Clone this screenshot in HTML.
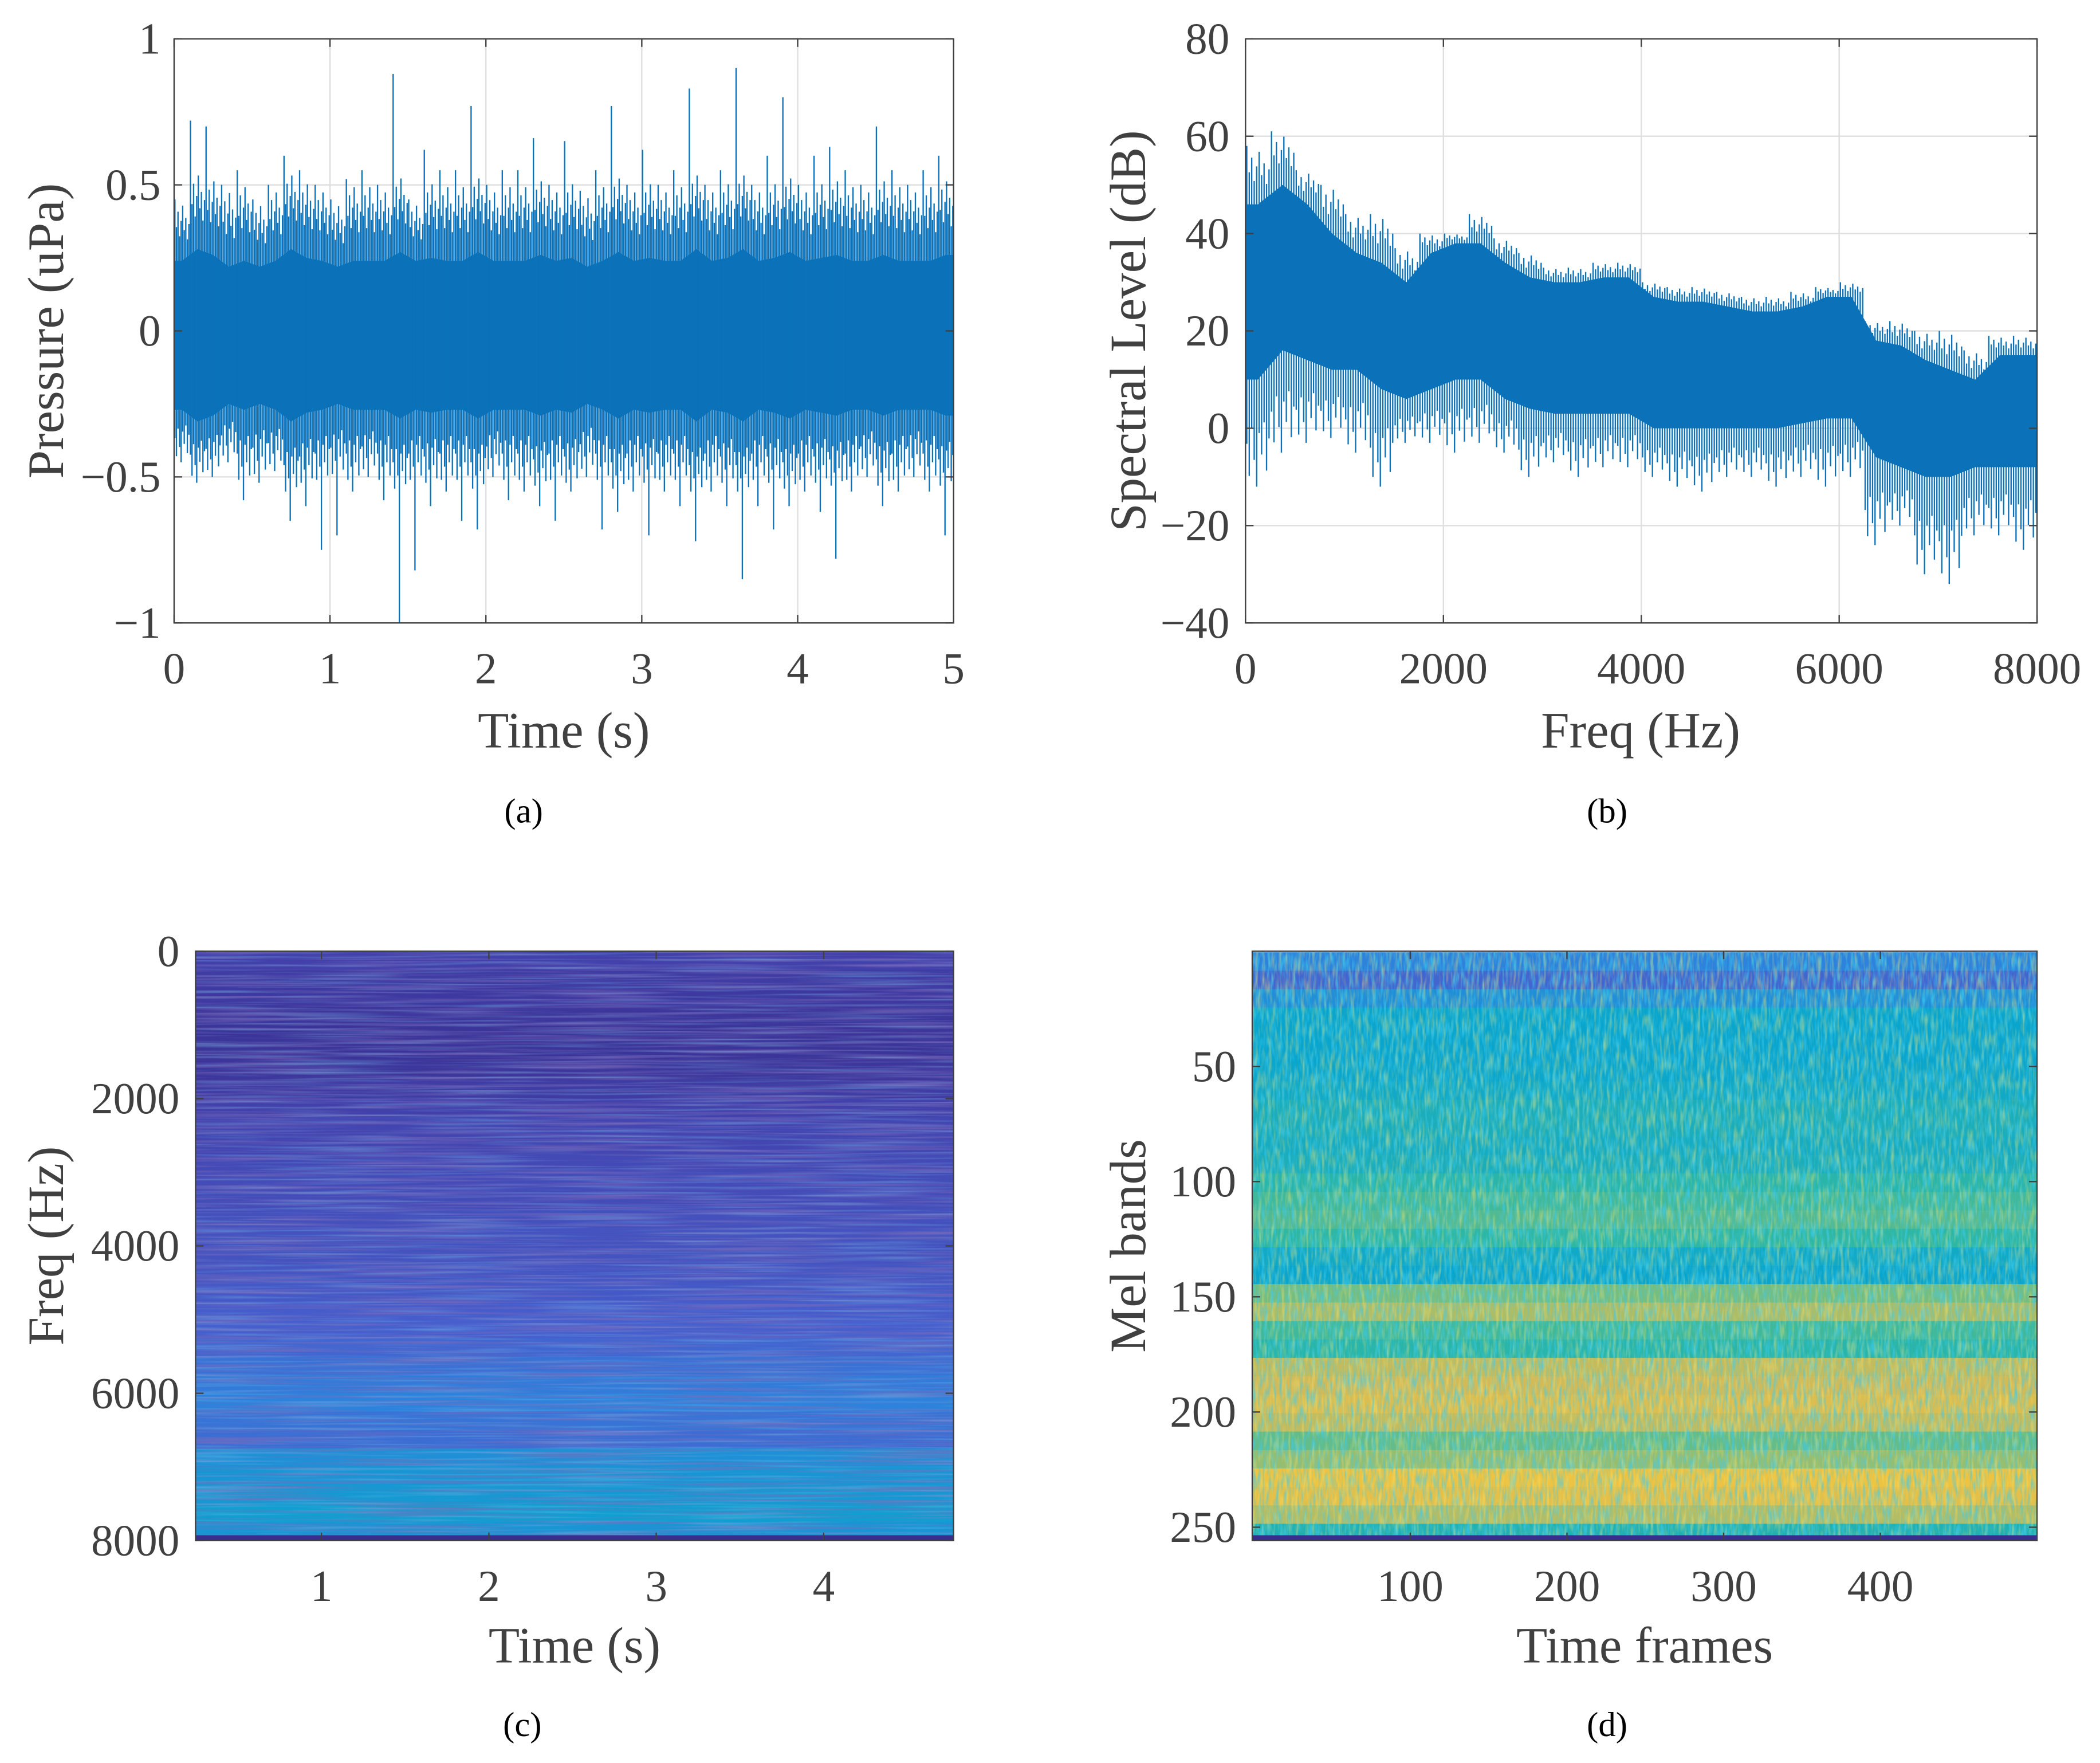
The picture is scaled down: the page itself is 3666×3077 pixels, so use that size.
<!DOCTYPE html>
<html><head><meta charset="utf-8"><style>
html,body{margin:0;padding:0;background:#fff;}
svg{display:block;}
text{font-family:"Liberation Serif","Times New Roman",serif;fill:#404040;}
</style></head><body>
<svg id="fig" xmlns="http://www.w3.org/2000/svg" width="3666" height="3077" viewBox="0 0 1568 1316" preserveAspectRatio="none">
<defs>
<filter id="streakH" x="0" y="0" width="1" height="1" filterUnits="objectBoundingBox">
<feTurbulence type="fractalNoise" baseFrequency="0.008 0.5" numOctaves="2" seed="3" result="n"/>
<feColorMatrix in="n" type="matrix" values="0 0 0 0 0.2  0 0 0 0 0.15  0 0 0 0 0.5  2.2 0 0 0 -0.95"/>
</filter>
<filter id="streakH2" x="0" y="0" width="1" height="1" filterUnits="objectBoundingBox">
<feTurbulence type="fractalNoise" baseFrequency="0.01 0.5" numOctaves="2" seed="11" result="n"/>
<feColorMatrix in="n" type="matrix" values="0 0 0 0 0.2  0 0 0 0 0.55  0 0 0 0 0.85  2.2 0 0 0 -1.05"/>
</filter>
<filter id="streakV" x="0" y="0" width="1" height="1" filterUnits="objectBoundingBox">
<feTurbulence type="fractalNoise" baseFrequency="0.45 0.08" numOctaves="2" seed="5" result="n"/>
<feColorMatrix in="n" type="matrix" values="0 0 0 0 0.05  0 0 0 0 0.6  0 0 0 0 0.85  2.4 0 0 0 -1.0"/>
</filter>
<filter id="streakV2" x="0" y="0" width="1" height="1" filterUnits="objectBoundingBox">
<feTurbulence type="fractalNoise" baseFrequency="0.4 0.07" numOctaves="2" seed="9" result="n"/>
<feColorMatrix in="n" type="matrix" values="0 0 0 0 1  0 0 0 0 0.8  0 0 0 0 0.15  2.4 0 0 0 -1.1"/>
</filter>
<clipPath id="clipC"><rect x="146" y="710" width="566" height="440"/></clipPath>
<clipPath id="clipD"><rect x="935" y="710" width="586" height="440"/></clipPath>
<clipPath id="clipA"><rect x="130" y="29" width="582" height="436"/></clipPath>
<clipPath id="clipB"><rect x="930" y="29" width="591" height="436"/></clipPath>
</defs>
</svg>
<script>
// ---------- data ----------
const waveTicksX = [0,1,2,3,4,5];
const waveTicksY = [1,0.5,0,-0.5,-1];
const waveTickLabelsY = ["1","0.5","0","\u22120.5","\u22121"];
const waveMax = [0.45,0.72,0.7,0.5,0.55,0.45,0.5,0.6,0.55,0.5,0.45,0.52,0.55,0.5,0.88,0.45,0.62,0.55,0.55,0.77,0.5,0.55,0.55,0.66,0.5,0.65,0.48,0.55,0.77,0.5,0.62,0.5,0.55,0.83,0.5,0.55,0.9,0.5,0.6,0.8,0.5,0.6,0.63,0.55,0.5,0.7,0.55,0.5,0.55,0.6];
const waveMin = [-0.45,-0.52,-0.5,-0.45,-0.58,-0.52,-0.48,-0.65,-0.6,-0.75,-0.7,-0.55,-0.5,-0.58,-1.0,-0.82,-0.6,-0.55,-0.65,-0.68,-0.5,-0.58,-0.55,-0.6,-0.65,-0.55,-0.5,-0.68,-0.62,-0.55,-0.7,-0.55,-0.6,-0.72,-0.55,-0.6,-0.85,-0.6,-0.68,-0.6,-0.55,-0.62,-0.78,-0.55,-0.5,-0.6,-0.55,-0.5,-0.55,-0.7];
const waveCore = [0.24,0.28,0.26,0.22,0.24,0.22,0.24,0.28,0.25,0.24,0.22,0.24,0.24,0.24,0.27,0.24,0.25,0.24,0.24,0.27,0.24,0.24,0.24,0.26,0.24,0.25,0.22,0.24,0.27,0.24,0.25,0.24,0.24,0.28,0.24,0.25,0.28,0.24,0.25,0.27,0.24,0.25,0.26,0.24,0.24,0.26,0.24,0.24,0.24,0.26];

const specTicksX = [0,2000,4000,6000,8000];
const specTicksY = [80,60,40,20,0,-20,-40];
const specTickLabelsY = ["80","60","40","20","0","\u221220","\u221240"];
const specHi = [58,61,53,50,44,44,37,40,40,44,39,36,33,33,34,34,30,29,29,28,27,27,28,29,30,22,22,20,20,16,19,19];
const specCoreHi = [46,50,46,40,36,34,30,36,38,38,34,31,30,30,31,31,27,26,26,25,24,24,25,27,27,18,17,14,12,10,15,15];
const specCoreLo = [10,16,14,12,12,8,6,8,10,10,6,4,3,3,3,3,0,0,0,0,0,0,1,2,2,-6,-8,-10,-10,-8,-8,-8];
const specLo = [-12,-5,-3,-2,-5,-12,-3,-3,-5,-3,-5,-10,-7,-10,-8,-8,-10,-12,-13,-10,-10,-12,-10,-12,-10,-24,-20,-30,-32,-22,-22,-25];

const stftTicksX = [1,2,3,4];
const stftTicksY = [0,2000,4000,6000,8000];
const stftRows = [0.1,0.08,0.07,0.06,0.05,0.05,0.06,0.08,0.1,0.12,0.12,0.13,0.14,0.14,0.15,0.16,0.16,0.17,0.18,0.19,0.2,0.22,0.25,0.28,0.3,0.26,0.24,0.36,0.38,0.4,0.42,0.38];

const melTicksX = [100,200,300,400];
const melTicksY = [50,100,150,200,250];
const melRows = [0.3,0.22,0.35,0.45,0.45,0.45,0.46,0.48,0.52,0.52,0.5,0.52,0.58,0.62,0.64,0.6,0.48,0.45,0.68,0.75,0.62,0.58,0.78,0.8,0.82,0.78,0.66,0.72,0.86,0.84,0.76,0.55];

// ---------- helpers ----------
const NS="http://www.w3.org/2000/svg";
const svg=document.getElementById('fig');
function mk(tag,attrs,parent){const e=document.createElementNS(NS,tag);for(const k in attrs)e.setAttribute(k,attrs[k]);(parent||svg).appendChild(e);return e;}
function txt(s,x,y,size,anchor,parent,extra){const t=mk('text',Object.assign({x:x,y:y,'font-size':size,'text-anchor':anchor||'middle'},extra||{}),parent);t.textContent=s;return t;}
function lin(d0,d1,r0,r1){return v=>r0+(v-d0)*(r1-r0)/(d1-d0);}
const parulaStops=[[0,[53,42,135]],[0.1,[66,64,170]],[0.2,[70,95,205]],[0.3,[45,130,220]],[0.45,[10,165,205]],[0.6,[46,183,164]],[0.7,[135,191,119]],[0.8,[209,187,89]],[0.9,[254,200,50]],[1,[249,251,14]]];
function parula(v){v=Math.max(0,Math.min(1,v));for(let i=1;i<parulaStops.length;i++){const a=parulaStops[i-1],b=parulaStops[i];if(v<=b[0]){const t=(v-a[0])/(b[0]-a[0]);const c=a[1].map((x,j)=>Math.round(x+(b[1][j]-x)*t));return 'rgb('+c.join(',')+')';}}return 'rgb(249,251,14)';}
const BLUE='#0b72b9';
const spikeUp=[1,0.55,0.8,0.4,0.65,0.9,0.5,0.7,0.35,0.6];
const spikeDn=[0.6,0.9,0.45,0.75,1,0.5,0.7,0.4,0.85,0.55];
function frame(g,x0,y0,x1,y1){const r=mk('rect',{x:x0,y:y0,width:x1-x0,height:y1-y0,fill:'none',stroke:'#404040','stroke-width':1},g);}
const TF=33, LF=38, CF=26;

// ---------- panel a ----------
(function(){
const g=mk('g',{});
const X0=130,X1=712,Y0=29,Y1=465;const sx=lin(0,5,X0,X1),sy=lin(-1,1,Y1,Y0);
waveTicksY.forEach(v=>{mk('line',{x1:X0,x2:X1,y1:sy(v),y2:sy(v),stroke:'#dedede','stroke-width':1},g);});
waveTicksX.forEach(v=>{mk('line',{x1:sx(v),x2:sx(v),y1:Y0,y2:Y1,stroke:'#dedede','stroke-width':1},g);});
const n=waveMax.length,bw=5/n;
const s=mk('g',{'clip-path':'url(#clipA)'},g);
let top=[],bot=[];
waveCore.forEach((c,i)=>{top.push(sx((i+0.5)*bw)+','+sy(c));bot.unshift(sx((i+0.5)*bw)+','+sy(-c-0.03));});
top.unshift(sx(0)+','+sy(waveCore[0]));top.push(sx(5)+','+sy(waveCore[n-1]));
bot.unshift(sx(5)+','+sy(-waveCore[n-1]-0.03));bot.push(sx(0)+','+sy(-waveCore[0]-0.03));
mk('polygon',{points:top.concat(bot).join(' '),fill:BLUE},s);
waveMax.forEach((m,i)=>{const c=waveCore[i];
 for(let k=0;k<10;k++){const xc=sx((i+0.05+k*0.1)*bw);
  const up=k===0?m:c+(Math.min(m,c+0.28)-c)*spikeUp[k];
  const dn=k===4?waveMin[i]:-c-(Math.min(-waveMin[i],c+0.3)-c)*spikeDn[k];
  mk('line',{x1:xc,x2:xc,y1:sy(up),y2:sy(dn),stroke:BLUE,'stroke-width':1},s);}
});
waveTicksX.forEach(v=>{mk('line',{x1:sx(v),x2:sx(v),y1:Y1,y2:Y1-6,stroke:'#404040'},g);mk('line',{x1:sx(v),x2:sx(v),y1:Y0,y2:Y0+6,stroke:'#404040'},g);txt(String(v),sx(v),Y1+45,TF,'middle',g);});
waveTicksY.forEach((v,i)=>{mk('line',{x1:X0,x2:X0+6,y1:sy(v),y2:sy(v),stroke:'#404040'},g);mk('line',{x1:X1,x2:X1-6,y1:sy(v),y2:sy(v),stroke:'#404040'},g);txt(waveTickLabelsY[i],X0-10,sy(v)+11,TF,'end',g);});
frame(g,X0,Y0,X1,Y1);
const xl=txt('Time (s)',421,558,LF,'middle',g);
const yl=txt('Pressure (uPa)',0,0,LF,'middle',g,{transform:'translate(47,247) rotate(-90)'});
const cap=txt('(a)',391,614,CF,'middle',g,{style:'fill:#000'});
})();

// ---------- panel b ----------
(function(){
const g=mk('g',{});
const X0=930,X1=1521,Y0=29,Y1=465;const sx=lin(0,8000,X0,X1),sy=lin(-40,80,Y1,Y0);
specTicksY.forEach(v=>{mk('line',{x1:X0,x2:X1,y1:sy(v),y2:sy(v),stroke:'#dedede'},g);});
specTicksX.forEach(v=>{mk('line',{x1:sx(v),x2:sx(v),y1:Y0,y2:Y1,stroke:'#dedede'},g);});
const s=mk('g',{'clip-path':'url(#clipB)'},g);
const n=specHi.length,bw=8000/n;
let top=[],bot=[];
specCoreHi.forEach((c,i)=>{top.push(sx((i+0.5)*bw)+','+sy(c));bot.unshift(sx((i+0.5)*bw)+','+sy(specCoreLo[i]));});
top.unshift(sx(0)+','+sy(specCoreHi[0]));top.push(sx(8000)+','+sy(specCoreHi[n-1]));
bot.unshift(sx(8000)+','+sy(specCoreLo[n-1]));bot.push(sx(0)+','+sy(specCoreLo[0]));
mk('polygon',{points:top.concat(bot).join(' '),fill:BLUE},s);
specHi.forEach((h,i)=>{
 for(let k=0;k<10;k++){const xc=sx((i+0.05+k*0.1)*bw);
  const up=specCoreHi[i]+(h-specCoreHi[i])*spikeUp[k];
  const dn=specCoreLo[i]+(specLo[i]-specCoreLo[i])*spikeDn[k];
  mk('line',{x1:xc,x2:xc,y1:sy(up),y2:sy(dn),stroke:BLUE,'stroke-width':1},s);}
});
specTicksX.forEach(v=>{mk('line',{x1:sx(v),x2:sx(v),y1:Y1,y2:Y1-6,stroke:'#404040'},g);mk('line',{x1:sx(v),x2:sx(v),y1:Y0,y2:Y0+6,stroke:'#404040'},g);txt(String(v),sx(v),Y1+45,TF,'middle',g);});
specTicksY.forEach((v,i)=>{mk('line',{x1:X0,x2:X0+6,y1:sy(v),y2:sy(v),stroke:'#404040'},g);mk('line',{x1:X1,x2:X1-6,y1:sy(v),y2:sy(v),stroke:'#404040'},g);txt(specTickLabelsY[i],X0-12,sy(v)+11,TF,'end',g);});
frame(g,X0,Y0,X1,Y1);
const xl=txt('Freq (Hz)',1225,558,LF,'middle',g);
const yl=txt('Spectral Level (dB)',0,0,LF,'middle',g,{transform:'translate(855,247) rotate(-90)'});
const cap=txt('(b)',1200,614,CF,'middle',g,{style:'fill:#000'});
})();

// ---------- panel c ----------
(function(){
const g=mk('g',{});
const X0=146,X1=712,Y0=710,Y1=1150;const sx=lin(1,2,240,365),sy=lin(0,8000,Y0,Y1);
const h=mk('g',{'clip-path':'url(#clipC)'},g);
const n=stftRows.length,bh=8000/n;
stftRows.forEach((v,i)=>{const r=mk('rect',{x:X0,y:sy(i*bh),width:X1-X0,height:sy(bh)-sy(0)+0.6,fill:parula(v)},h);});
mk('rect',{x:X0,y:Y0,width:X1-X0,height:Y1-Y0,fill:'#fff',filter:'url(#streakH)',opacity:0.8},h);
mk('rect',{x:X0,y:Y0,width:X1-X0,height:Y1-Y0,fill:'#fff',filter:'url(#streakH2)',opacity:0.45},h);
mk('rect',{x:X0,y:Y1-4,width:X1-X0,height:4,fill:parula(0.02)},h);
stftTicksX.forEach(v=>{mk('line',{x1:sx(v),x2:sx(v),y1:Y1,y2:Y1-6,stroke:'#404040'},g);mk('line',{x1:sx(v),x2:sx(v),y1:Y0,y2:Y0+6,stroke:'#404040'},g);txt(String(v),sx(v),Y1+45,TF,'middle',g);});
stftTicksY.forEach(v=>{mk('line',{x1:X0,x2:X0+6,y1:sy(v),y2:sy(v),stroke:'#404040'},g);mk('line',{x1:X1,x2:X1-6,y1:sy(v),y2:sy(v),stroke:'#404040'},g);txt(String(v),X0-12,sy(v)+11,TF,'end',g);});
frame(g,X0,Y0,X1,Y1);
const xl=txt('Time (s)',429,1241,LF,'middle',g);
const yl=txt('Freq (Hz)',0,0,LF,'middle',g,{transform:'translate(47,930) rotate(-90)'});
const cap=txt('(c)',390,1296,CF,'middle',g,{style:'fill:#000'});
})();

// ---------- panel d ----------
(function(){
const g=mk('g',{});
const X0=935,X1=1521,Y0=710,Y1=1150;const sx=lin(100,400,1053,1404),sy=lin(50,250,796,1140);
const h=mk('g',{'clip-path':'url(#clipD)'},g);
const n=melRows.length,bh=256/n;
melRows.forEach((v,i)=>{const r=mk('rect',{x:X0,y:sy(0.5+i*bh),width:X1-X0,height:sy(bh)-sy(0)+0.6,fill:parula(v)},h);});
mk('rect',{x:X0,y:Y0,width:X1-X0,height:Y1-Y0,fill:'#fff',filter:'url(#streakV)',opacity:0.7},h);
mk('rect',{x:X0,y:Y0,width:X1-X0,height:Y1-Y0,fill:'#fff',filter:'url(#streakV2)',opacity:0.45},h);
mk('rect',{x:X0,y:Y1-4,width:X1-X0,height:4,fill:parula(0.02)},h);
melTicksX.forEach(v=>{mk('line',{x1:sx(v),x2:sx(v),y1:Y1,y2:Y1-6,stroke:'#404040'},g);mk('line',{x1:sx(v),x2:sx(v),y1:Y0,y2:Y0+6,stroke:'#404040'},g);txt(String(v),sx(v),Y1+45,TF,'middle',g);});
melTicksY.forEach(v=>{mk('line',{x1:X0,x2:X0+6,y1:sy(v),y2:sy(v),stroke:'#404040'},g);mk('line',{x1:X1,x2:X1-6,y1:sy(v),y2:sy(v),stroke:'#404040'},g);txt(String(v),X0-12,sy(v)+11,TF,'end',g);});
frame(g,X0,Y0,X1,Y1);
const xl=txt('Time frames',1228,1241,LF,'middle',g);
const yl=txt('Mel bands',0,0,LF,'middle',g,{transform:'translate(855,930) rotate(-90)'});
const cap=txt('(d)',1200,1296,CF,'middle',g,{style:'fill:#000'});
})();
</script>
</body></html>
